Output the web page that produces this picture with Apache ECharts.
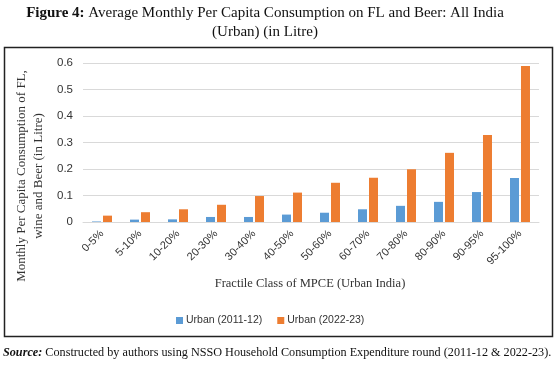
<!DOCTYPE html>
<html>
<head>
<meta charset="utf-8">
<script src="https://cdn.jsdelivr.net/npm/echarts@6/dist/echarts.min.js"></script>
<style>html,body{margin:0;padding:0;background:#fff;}#c{width:557px;height:366px;}</style>
</head>
<body>
<div id="c"></div>
<script>
var categories = ['0-5%','5-10%','10-20%','20-30%','30-40%','40-50%','50-60%','60-70%','70-80%','80-90%','90-95%','95-100%'];
var urban2011 = [0.002,0.009,0.010,0.019,0.019,0.028,0.035,0.048,0.061,0.076,0.113,0.166];
var urban2022 = [0.024,0.037,0.048,0.065,0.098,0.111,0.148,0.167,0.199,0.261,0.328,0.589];
var seriesNames = ['Urban (2011-12)','Urban (2022-23)'];

var chart = echarts.init(document.getElementById('c'));
var serif = '"Liberation Serif","Times New Roman",serif';
var sans = '"Liberation Sans",Arial,sans-serif';
chart.setOption({
  animation: false,
  backgroundColor: '#fff',
  grid: {left: 83, right: 18, top: 63, bottom: 144},
  legend: {
    data: seriesNames, top: 310, left: 171, itemWidth: 7, itemHeight: 7, icon: 'rect', itemGap: 15,
    textStyle: {fontFamily: sans, fontSize: 10.5, color: '#333', padding: [0, 0, 0, -2]}
  },
  xAxis: {
    type: 'category', data: categories,
    axisLine: {lineStyle: {color: '#d9d9d9'}}, axisTick: {show: false},
    axisLabel: {rotate: 45, interval: 0, fontFamily: sans, fontSize: 11, color: '#333', margin: 10}
  },
  yAxis: {
    type: 'value', min: 0, max: 0.6, interval: 0.1,
    axisLine: {show: false}, axisTick: {show: false},
    splitLine: {lineStyle: {color: '#d9d9d9'}},
    axisLabel: {fontFamily: sans, fontSize: 11.5, color: '#333', margin: 10,
      formatter: function(v){ return v === 0 ? '0' : v.toFixed(1); }}
  },
  series: [
    {name: seriesNames[0], type: 'bar', data: urban2011, barWidth: 9, barGap: '22%', itemStyle: {color: '#5B9BD5'}},
    {name: seriesNames[1], type: 'bar', data: urban2022, barWidth: 9, barGap: '22%', itemStyle: {color: '#ED7D31'}}
  ],
  graphic: [
    {type: 'rect', shape: {x: 4.5, y: 47.5, width: 548, height: 289}, style: {fill: 'none', stroke: '#222', lineWidth: 1.5}, z: -1},
    {type: 'text', x: 265, y: 4, style: {
      text: '{b|Figure 4:} Average Monthly Per Capita Consumption on FL and Beer: All India\n(Urban) (in Litre)',
      textAlign: 'center', font: '15px ' + serif, fill: '#111', lineHeight: 19,
      rich: {b: {fontWeight: 'bold', fontFamily: serif, fontSize: 15, fill: '#111'}}
    }},
    {type: 'text', x: 30, y: 176, rotation: Math.PI / 2, style: {
      text: 'Monthly Per Capita Consumption of FL,\nwine and Beer (in Litre)',
      textAlign: 'center', textVerticalAlign: 'middle', font: '13px ' + serif, fill: '#333', lineHeight: 17
    }},
    {type: 'text', x: 310, y: 284, style: {
      text: 'Fractile Class of MPCE (Urban India)', textAlign: 'center', textVerticalAlign: 'middle',
      font: '12.5px ' + serif, fill: '#333'
    }},
    {type: 'text', x: 3, y: 353, style: {
      text: '{b|Source:} Constructed by authors using NSSO Household Consumption Expenditure round (2011-12 & 2022-23).',
      textAlign: 'left', textVerticalAlign: 'middle', font: '12.2px ' + serif, fill: '#111',
      rich: {b: {fontWeight: 'bold', fontStyle: 'italic', fontFamily: serif, fontSize: 12.2, fill: '#111'}}
    }}
  ]
});
</script>
</body>
</html>
